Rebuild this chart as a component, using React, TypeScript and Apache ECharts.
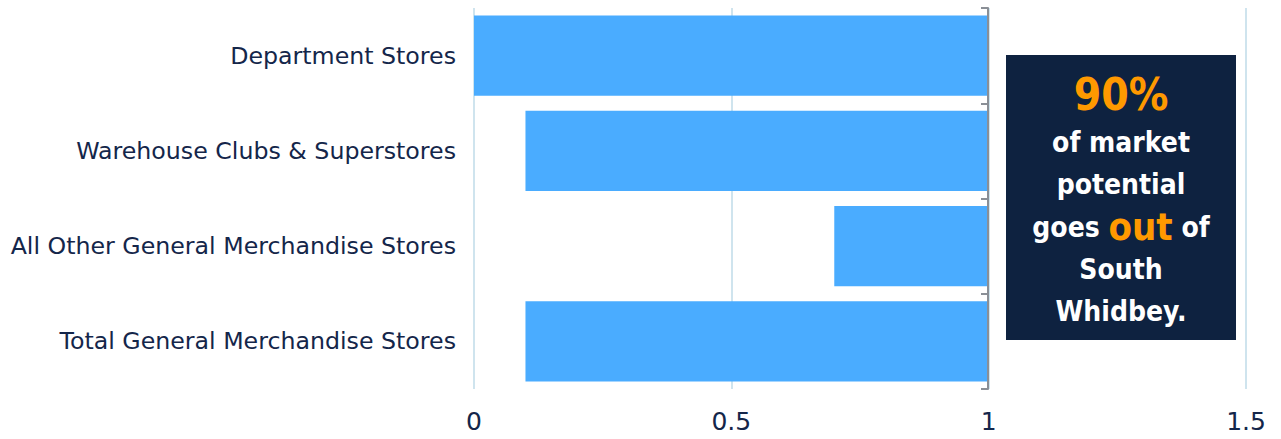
import React, { useEffect, useRef } from "react";
import * as echarts from "echarts";

const categories = [
  "Department Stores",
  "Warehouse Clubs & Superstores",
  "All Other General Merchandise Stores",
  "Total General Merchandise Stores",
];
const baseValues = [0, 0.1, 0.7, 0.1];
const leakageValues = [1.0, 0.9, 0.3, 0.9];
const xTicks = { min: 0, max: 1.5, interval: 0.5 };

const FONT = "DejaVu Sans";
const BOXFONT = "'DejaVu Sans Condensed', 'DejaVu Sans'";
const NAVY = "#14264a";

export default function App() {
  const ref = useRef<HTMLDivElement>(null);
  useEffect(() => {
    if (!ref.current) return;
    const chart = echarts.init(ref.current, undefined, { renderer: "svg" });
    const cats = [...categories].reverse();
    const base = [...baseValues].reverse();
    const leak = [...leakageValues].reverse();
    chart.setOption({
      animation: false,
      grid: { left: 474, right: 35, top: 8, bottom: 50, containLabel: false },
      xAxis: {
        type: "value",
        min: xTicks.min,
        max: xTicks.max,
        interval: xTicks.interval,
        axisLine: { show: false },
        axisTick: { show: false },
        axisLabel: { color: NAVY, fontSize: 25, fontFamily: FONT, margin: 20 },
        splitLine: { lineStyle: { color: "#cfe4ee", width: 2 } },
      },
      yAxis: [
        {
          type: "category",
          data: cats,
          axisLine: { show: false },
          axisTick: { show: false },
          axisLabel: { color: NAVY, fontSize: 23.7, fontFamily: FONT, margin: 18 },
        },
        {
          type: "category",
          data: cats,
          position: "left",
          offset: -514,
          axisLine: { show: true, lineStyle: { color: "#8a8f96", width: 2 } },
          axisTick: { show: true, length: 7, lineStyle: { color: "#8a8f96", width: 2 } },
          axisLabel: { show: false },
          z: 10,
        },
      ],
      series: [
        {
          type: "bar",
          stack: "s",
          data: base,
          itemStyle: { color: "transparent" },
          barCategoryGap: "16%",
          silent: true,
        },
        {
          type: "bar",
          stack: "s",
          data: leak,
          itemStyle: { color: "#4aacff" },
          barCategoryGap: "16%",
        },
      ],
      graphic: [
        {
          type: "rect",
          shape: { x: 1006, y: 55, width: 230, height: 285 },
          style: { fill: "#0e2240" },
          z: 20,
        },
        {
          type: "text",
          x: 1121,
          y: 200,
          z: 21,
          style: {
            text:
              "{o|90%}\n{w|of market}\n{w|potential}\n{w|goes }{oo|out}{w| of}\n{w|South}\n{w|Whidbey.}",
            align: "center",
            verticalAlign: "middle",
            rich: {
              o: { fill: "#ff9900", fontSize: 44, fontWeight: "bold", fontFamily: BOXFONT, lineHeight: 54 },
              oo: { fill: "#ff9900", fontSize: 38, fontWeight: "bold", fontFamily: BOXFONT, lineHeight: 43 },
              w: { fill: "#ffffff", fontSize: 28, fontWeight: "bold", fontFamily: BOXFONT, lineHeight: 42 },
            },
          },
        },
      ],
    });
    return () => chart.dispose();
  }, []);
  return (
    <div
      ref={ref}
      style={{ position: "absolute", left: 0, top: 0, width: 1281, height: 439 }}
    />
  );
}
